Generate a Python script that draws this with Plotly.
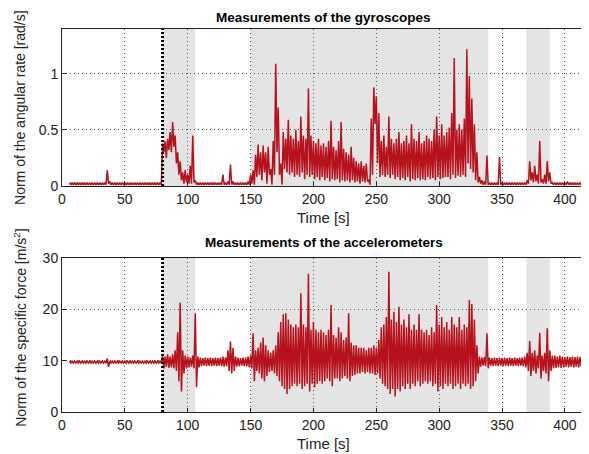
import plotly.graph_objects as go

time_s = list(range(6, 417, 2))

gyro_hi = [
    0.03, 0.03, 0.03, 0.03, 0.03, 0.03, 0.03, 0.03, 0.03, 0.03,   # 6-24
    0.03, 0.03, 0.03, 0.03, 0.03, 0.14, 0.04, 0.03, 0.03, 0.03,   # 26-44
    0.03, 0.03, 0.03, 0.03, 0.03, 0.03, 0.03, 0.03, 0.03, 0.03,   # 46-64
    0.03, 0.03, 0.03, 0.03, 0.03, 0.03, 0.03, 0.38, 0.40, 0.42,   # 66-84
    0.48, 0.57, 0.45, 0.30, 0.22, 0.12, 0.14, 0.10, 0.18, 0.45,   # 86-104
    0.05, 0.03, 0.03, 0.03, 0.03, 0.03, 0.03, 0.03, 0.03, 0.03,   # 106-124
    0.03, 0.10, 0.03, 0.04, 0.19, 0.04, 0.03, 0.03, 0.03, 0.03,   # 126-144
    0.03, 0.04, 0.10, 0.14, 0.28, 0.37, 0.30, 0.36, 0.30, 0.35,   # 146-164
    0.15, 0.40, 1.09, 0.70, 0.20, 0.48, 0.42, 0.59, 0.45, 0.42,   # 166-184
    0.50, 0.40, 0.62, 0.45, 0.42, 0.87, 0.45, 0.40, 0.38, 0.42,   # 186-204
    0.36, 0.38, 0.35, 0.40, 0.58, 0.35, 0.32, 0.40, 0.57, 0.33,   # 206-224
    0.30, 0.28, 0.35, 0.25, 0.22, 0.20, 0.22, 0.18, 0.20, 0.05,   # 226-244
    0.60, 0.88, 0.80, 0.65, 0.40, 0.45, 0.35, 0.62, 0.42, 0.38,   # 246-264
    0.42, 0.48, 0.38, 0.40, 0.45, 0.38, 0.55, 0.42, 0.40, 0.48,   # 266-284
    0.38, 0.40, 0.45, 0.42, 0.40, 0.50, 0.62, 0.45, 0.55, 0.45,   # 286-304
    0.48, 0.52, 0.65, 1.14, 0.50, 0.55, 0.50, 0.60, 1.22, 0.98,   # 306-324
    0.78, 0.55, 0.30, 0.08, 0.05, 0.04, 0.27, 0.03, 0.03, 0.03,   # 326-344
    0.03, 0.26, 0.03, 0.03, 0.03, 0.03, 0.03, 0.03, 0.03, 0.03,   # 346-364
    0.03, 0.03, 0.05, 0.22, 0.12, 0.18, 0.10, 0.40, 0.06, 0.10,   # 366-384
    0.22, 0.12, 0.03, 0.03, 0.03, 0.03, 0.03, 0.03, 0.04, 0.03,   # 386-404
    0.03, 0.03, 0.03, 0.03, 0.03, 0.03,                           # 406-416
]
gyro_lo = [
    0.01, 0.01, 0.01, 0.01, 0.01, 0.01, 0.01, 0.01, 0.01, 0.01,
    0.01, 0.01, 0.01, 0.01, 0.01, 0.02, 0.01, 0.01, 0.01, 0.01,
    0.01, 0.01, 0.01, 0.01, 0.01, 0.01, 0.01, 0.01, 0.01, 0.01,
    0.01, 0.01, 0.01, 0.01, 0.01, 0.01, 0.01, 0.30, 0.25, 0.32,
    0.30, 0.35, 0.20, 0.10, 0.05, 0.02, 0.03, 0.02, 0.02, 0.03,
    0.01, 0.01, 0.01, 0.01, 0.01, 0.01, 0.01, 0.01, 0.01, 0.01,
    0.01, 0.01, 0.01, 0.01, 0.01, 0.01, 0.01, 0.01, 0.01, 0.01,
    0.01, 0.01, 0.02, 0.01, 0.08, 0.10, 0.05, 0.12, 0.02, 0.10,
    0.01, 0.10, 0.30, 0.10, 0.01, 0.15, 0.12, 0.10, 0.12, 0.08,
    0.10, 0.08, 0.12, 0.06, 0.10, 0.08, 0.10, 0.06, 0.08, 0.05,
    0.08, 0.05, 0.07, 0.04, 0.06, 0.05, 0.06, 0.03, 0.05, 0.04,
    0.05, 0.03, 0.05, 0.03, 0.04, 0.02, 0.04, 0.03, 0.04, 0.01,
    0.10, 0.55, 0.20, 0.08, 0.10, 0.08, 0.10, 0.07, 0.10, 0.06,
    0.08, 0.05, 0.07, 0.05, 0.08, 0.04, 0.06, 0.05, 0.07, 0.05,
    0.06, 0.05, 0.08, 0.06, 0.07, 0.05, 0.08, 0.06, 0.07, 0.08,
    0.08, 0.06, 0.10, 0.07, 0.09, 0.08, 0.10, 0.08, 0.20, 0.15,
    0.12, 0.05, 0.03, 0.02, 0.01, 0.01, 0.01, 0.01, 0.01, 0.01,
    0.01, 0.01, 0.01, 0.01, 0.01, 0.01, 0.01, 0.01, 0.01, 0.01,
    0.01, 0.01, 0.02, 0.05, 0.03, 0.04, 0.02, 0.03, 0.02, 0.02,
    0.04, 0.02, 0.01, 0.01, 0.01, 0.01, 0.01, 0.01, 0.01, 0.01,
    0.01, 0.01, 0.01, 0.01, 0.01, 0.01,
]

acc_hi = [
    9.9, 9.9, 9.9, 9.9, 9.9, 9.9, 9.9, 9.9, 9.9, 9.9,             # 6-24
    9.9, 9.9, 9.9, 9.9, 9.9, 10.4, 9.9, 9.9, 9.9, 9.9,            # 26-44
    9.9, 9.9, 9.9, 9.9, 9.9, 9.9, 9.9, 9.9, 9.9, 9.9,             # 46-64
    9.9, 9.9, 9.9, 9.9, 9.9, 9.9, 9.9, 11.0, 10.8, 11.2,          # 66-84
    10.8, 11.2, 12.0, 15.5, 21.3, 12.0, 11.0, 10.8, 10.6, 11.0,   # 86-104
    19.2, 10.8, 10.6, 10.5, 10.6, 10.5, 10.6, 10.5, 10.6, 10.5,   # 106-124
    10.6, 10.8, 10.6, 12.0, 13.7, 12.5, 10.8, 10.6, 10.5, 10.6,   # 126-144
    10.6, 10.8, 11.0, 15.3, 12.0, 12.5, 13.5, 14.5, 13.0, 12.0,   # 146-164
    11.5, 12.0, 13.0, 15.5, 17.5, 19.0, 19.2, 18.0, 17.0, 16.5,   # 166-184
    17.0, 16.5, 23.1, 17.0, 16.5, 26.9, 16.0, 17.5, 16.0, 15.5,   # 186-204
    16.0, 15.5, 15.0, 16.0, 20.8, 15.0, 14.5, 16.5, 15.5, 14.0,   # 206-224
    14.5, 19.2, 13.5, 13.0, 13.0, 12.5, 12.5, 12.5, 12.0, 12.5,   # 226-244
    12.5, 13.0, 12.5, 14.0, 16.5, 17.0, 18.5, 27.3, 18.0, 19.5,   # 246-264
    17.5, 20.5, 17.0, 18.0, 16.5, 19.0, 16.0, 17.0, 16.0, 19.0,   # 266-284
    16.0, 15.5, 16.0, 15.0, 16.5, 15.5, 20.8, 17.0, 18.5, 16.5,   # 286-304
    17.5, 16.0, 18.5, 17.0, 16.5, 18.5, 16.0, 17.0, 16.5, 21.8,   # 306-324
    21.0, 18.0, 13.0, 10.8, 10.6, 10.7, 15.3, 10.6, 10.5, 10.6,   # 326-344
    10.5, 10.6, 10.5, 10.6, 10.5, 10.6, 10.5, 10.6, 10.5, 10.6,   # 346-364
    10.6, 10.8, 11.5, 13.8, 11.5, 12.0, 11.0, 15.4, 11.0, 11.5,   # 366-384
    16.3, 12.0, 11.0, 11.0, 10.8, 11.0, 10.8, 10.7, 10.8, 10.7,   # 386-404
    10.8, 10.7, 10.8, 10.7, 10.8, 10.7,                           # 406-416
]
acc_lo = [
    9.5, 9.5, 9.5, 9.5, 9.5, 9.5, 9.5, 9.5, 9.5, 9.5,
    9.5, 9.5, 9.5, 9.5, 9.5, 8.8, 9.5, 9.5, 9.5, 9.5,
    9.5, 9.5, 9.5, 9.5, 9.5, 9.5, 9.5, 9.5, 9.5, 9.5,
    9.5, 9.5, 9.5, 9.5, 9.5, 9.5, 9.5, 8.5, 8.8, 8.6,
    8.7, 8.5, 8.0, 6.0, 4.0, 7.5, 8.5, 8.7, 8.8, 8.5,
    4.8, 8.7, 8.9, 9.0, 8.9, 9.0, 8.9, 9.0, 8.9, 9.0,
    8.9, 8.8, 8.9, 8.0, 7.5, 8.0, 8.8, 8.9, 9.0, 8.9,
    8.9, 8.7, 8.5, 6.0, 8.0, 7.5, 6.5, 6.0, 7.0, 7.8,
    8.0, 7.5, 7.0, 6.0, 5.0, 4.5, 3.5, 4.5, 5.0, 5.5,
    5.0, 5.5, 4.5, 5.0, 5.5, 4.0, 5.5, 4.8, 5.5, 6.0,
    5.5, 6.0, 6.5, 6.0, 5.0, 6.5, 6.5, 6.0, 6.5, 7.0,
    6.5, 6.0, 7.0, 7.2, 7.5, 7.5, 7.8, 7.5, 7.8, 7.5,
    7.5, 7.2, 7.5, 6.5, 5.5, 5.0, 4.5, 3.5, 4.5, 3.0,
    4.5, 4.0, 5.0, 4.5, 5.5, 4.5, 5.5, 5.0, 6.0, 5.0,
    5.5, 6.0, 5.5, 6.0, 5.0, 5.5, 4.0, 5.0, 4.5, 5.5,
    5.0, 5.5, 4.5, 5.0, 5.5, 4.5, 5.5, 5.0, 5.5, 4.5,
    5.0, 6.0, 7.5, 8.8, 9.0, 8.9, 8.5, 9.0, 8.9, 9.0,
    8.9, 9.0, 8.9, 9.0, 8.9, 9.0, 8.9, 9.0, 8.9, 9.0,
    8.9, 8.7, 8.0, 7.0, 8.0, 7.5, 8.5, 6.5, 8.0, 7.5,
    6.0, 8.0, 8.5, 8.6, 8.7, 8.6, 8.7, 8.8, 8.7, 8.8,
    8.7, 8.8, 8.7, 8.8, 8.7, 8.8,
]

x_ticks = [0, 50, 100, 150, 200, 250, 300, 350, 400]
gyro_ticks = [0, 0.5, 1]
acc_ticks = [0, 10, 20, 30]
shaded_intervals = [(80, 106), (150, 339), (369.5, 388)]
start_marker = 80

titles = ["Measurements of the gyroscopes", "Measurements of the accelerometers"]
ylabels = ["Norm of the angular rate [rad/s]", "Norm of the specific force [m/s<sup>2</sup>]"]


def zigzag(t, hi, lo):
    xs, ys = [], []
    for ti, h, l in zip(t, hi, lo):
        xs += [ti, ti + 1]
        ys += [h, l]
    return xs, ys


# the page body keeps an 8px default margin, so the figure is laid out 8px in from the window
OFF = 8
WIN_W, WIN_H = 589, 454
W, H = WIN_W - OFF, WIN_H - OFF
# plot-area box in window pixels: x 62..585, y 29..412.3
L = 62 - OFF
R = W - (585 - OFF)
T = 29 - OFF
B = H - (412.3 - OFF)
PW, PH = W - L - R, H - T - B
RED = "#b5121b"
FONT = "Liberation Sans, Arial, sans-serif"


def px_x(px):          # window px -> paper
    return (px - OFF - L) / PW


def px_y(py):
    return (H - B - (py - OFF)) / PH


fig = go.Figure()
gx, gy = zigzag(time_s, gyro_hi, gyro_lo)
ax, ay = zigzag(time_s, acc_hi, acc_lo)
fig.add_trace(go.Scatter(x=gx, y=gy, mode="lines", line=dict(color=RED, width=1.5),
                         xaxis="x", yaxis="y", showlegend=False))
fig.add_trace(go.Scatter(x=ax, y=ay, mode="lines", line=dict(color=RED, width=1.5),
                         xaxis="x2", yaxis="y2", showlegend=False))

ydom1 = [px_y(186), 1]
ydom2 = [0, px_y(258)]

GRID = dict(showgrid=True, gridcolor="#555", griddash="1px,3px", gridwidth=1, showline=True,
            linecolor="#222", linewidth=1, mirror=True, ticks="inside", ticklen=4,
            tickcolor="#222", zeroline=False, automargin=False)
common_x = dict(GRID, range=[0, 416], tickvals=x_ticks, domain=[0, 1],
                tickfont=dict(size=14, color="#222", family=FONT))
common_y = dict(GRID, tickfont=dict(size=14, color="#222", family=FONT))

shapes = []
for xref, yref in [("x", "y domain"), ("x2", "y2 domain")]:
    for a, b in shaded_intervals:
        shapes.append(dict(type="rect", xref=xref, yref=yref, x0=a, x1=b, y0=0, y1=1,
                           fillcolor="#e4e4e4", line=dict(width=0), layer="below"))
    shapes.append(dict(type="line", xref=xref, yref=yref, x0=start_marker, x1=start_marker,
                       y0=0, y1=1, line=dict(color="black", width=3, dash="2px,2px"),
                       layer="above"))

annotations = []
pos = [(17, 218, 108), (243, 444, 328)]
for (ty, tmy, ly), ttl, yl in zip(pos, titles, ylabels):
    annotations.append(dict(text=f"<b>{ttl}</b>", x=0.5, y=px_y(ty), xref="paper", yref="paper",
                            xanchor="center", yanchor="middle", showarrow=False,
                            font=dict(size=13.5, color="black", family=FONT)))
    annotations.append(dict(text="Time [s]", x=0.5, y=px_y(tmy), xref="paper", yref="paper",
                            xanchor="center", yanchor="middle", showarrow=False,
                            font=dict(size=15, color="#222", family=FONT)))
    annotations.append(dict(text=yl, x=px_x(20), y=px_y(ly), textangle=-90,
                            xref="paper", yref="paper", xanchor="center", yanchor="middle",
                            showarrow=False, font=dict(size=14, color="#222", family=FONT)))

fig.update_layout(
    width=W, height=H, margin=dict(l=L, r=R, t=T, b=B, autoexpand=False),
    paper_bgcolor="white", plot_bgcolor="white",
    xaxis=dict(common_x, anchor="y"),
    xaxis2=dict(common_x, anchor="y2"),
    yaxis=dict(common_y, range=[0, 1.4], tickvals=gyro_ticks, ticktext=["0", "0.5", "1"],
               domain=ydom1, anchor="x"),
    yaxis2=dict(common_y, range=[0, 30], tickvals=acc_ticks, domain=ydom2, anchor="x2"),
    shapes=shapes, annotations=annotations,
)

fig.write_html("out.html")
